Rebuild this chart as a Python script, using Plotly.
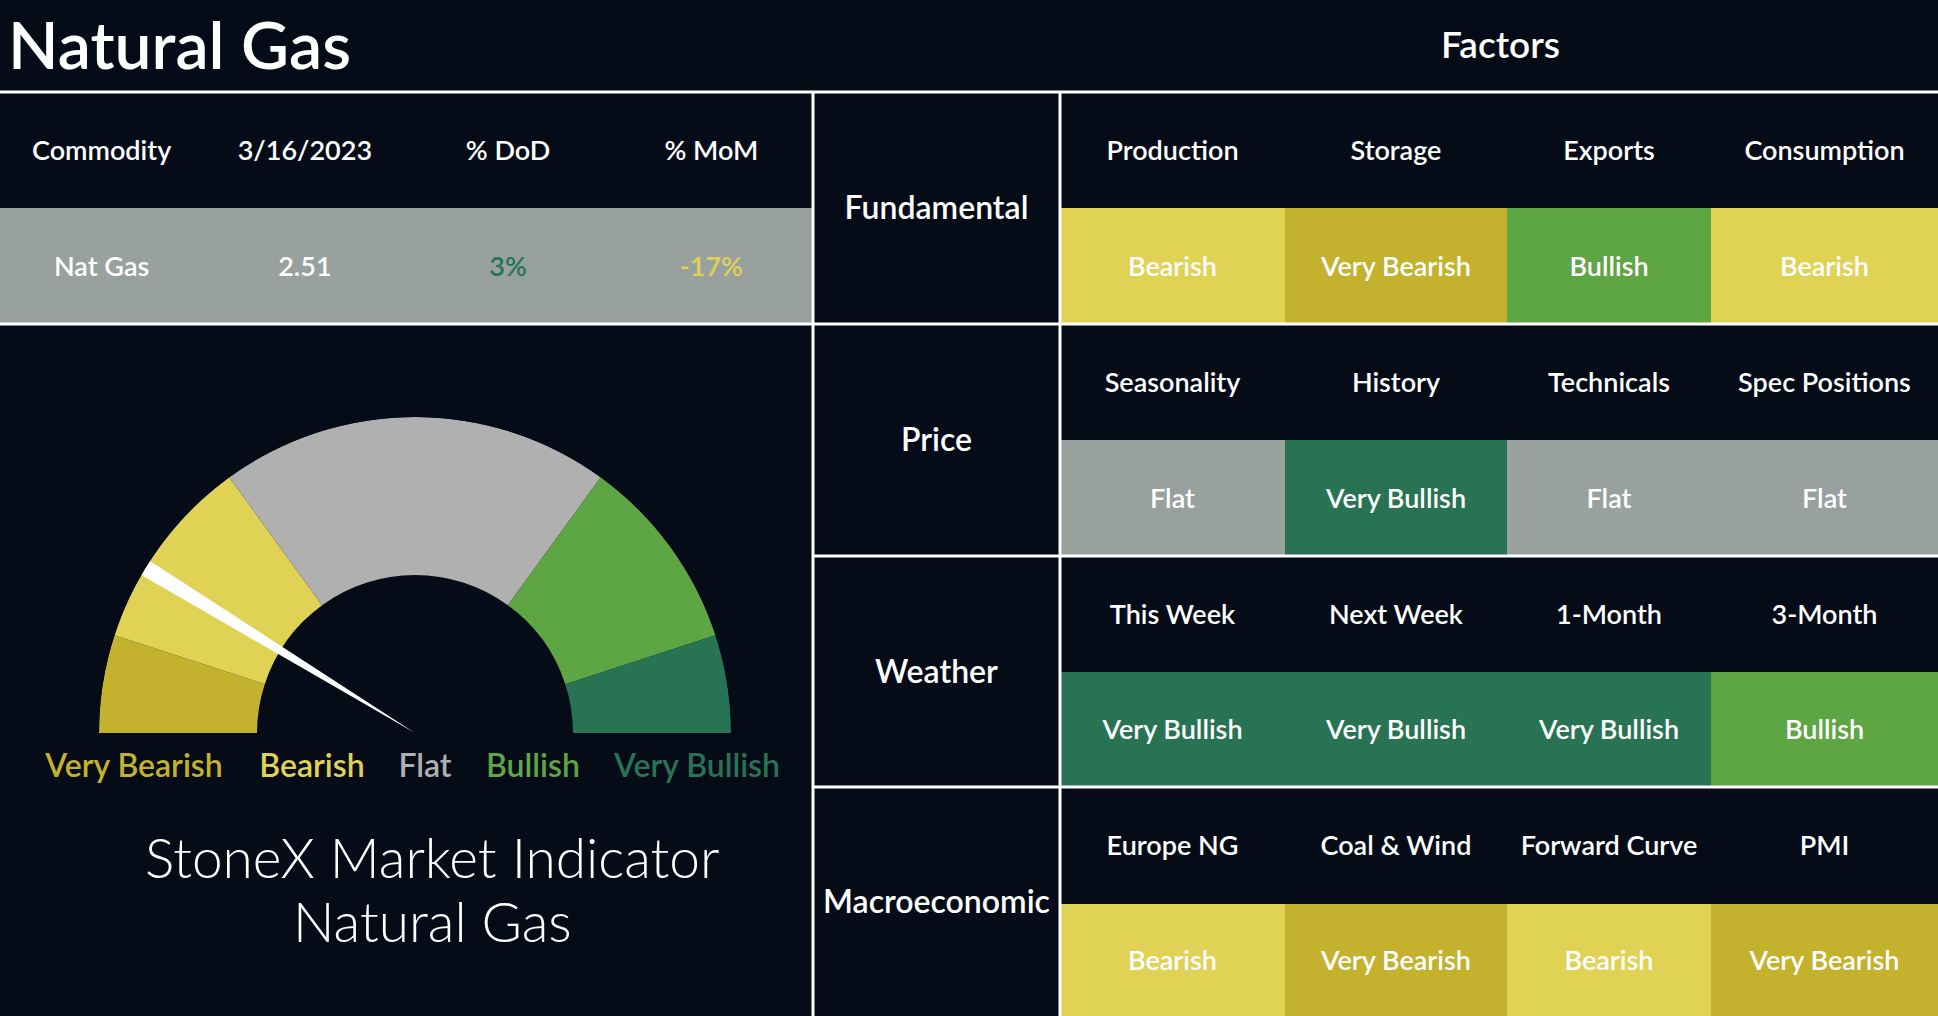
import numpy as np
import plotly.graph_objects as go

# ---- data ----
page_title = "Natural Gas"
table_header = ["Commodity", "3/16/2023", "% DoD", "% MoM"]
table_row = ["Nat Gas", "2.51", "3%", "-17%"]

sentiment_levels = ["Very Bearish", "Bearish", "Flat", "Bullish", "Very Bullish"]
gauge_spans = [1, 2, 4, 2, 1]
needle_value = 1.75

categories = ["Fundamental", "Price", "Weather", "Macroeconomic"]
factor_names = [
    ["Production", "Storage", "Exports", "Consumption"],
    ["Seasonality", "History", "Technicals", "Spec Positions"],
    ["This Week", "Next Week", "1-Month", "3-Month"],
    ["Europe NG", "Coal & Wind", "Forward Curve", "PMI"],
]
factor_signals = [
    ["Bearish", "Very Bearish", "Bullish", "Bearish"],
    ["Flat", "Very Bullish", "Flat", "Flat"],
    ["Very Bullish", "Very Bullish", "Very Bullish", "Bullish"],
    ["Bearish", "Very Bearish", "Bearish", "Very Bearish"],
]

# ---- style / layout ----
W, H = 1938, 1016
BG = "#050c18"
FONT = "Lato"
level_colors = ["#c4b12e", "#e0d255", "#99a19f", "#5ea544", "#287354"]
gauge_colors = ["#c4b12e", "#e0d255", "#b0b0b0", "#5ea544", "#287354"]
label_colors = ["#c4b12e", "#e0d255", "#b0b0b0", "#5ea544", "#287354"]

left_w = 813
cat_x = [813, 1060]
col_edges = [1060, 1285, 1507, 1711, 1938]
row_edges = [92, 208, 324, 440, 556, 672, 787, 904, 1016]
dy = 3  # text baseline nudge

fig = go.Figure()

# left gray data row
fig.add_trace(go.Heatmap(
    x=[0, left_w], y=[208, 324], z=[[2]],
    zmin=0, zmax=4, showscale=False, hoverinfo="skip",
    colorscale=[[0, level_colors[2]], [1, level_colors[2]]],
))

# factor grid
zz = []
for r in range(4):
    zz.append([None] * 4)
    zz.append([sentiment_levels.index(s) for s in factor_signals[r]])
cs = []
for i, c in enumerate(level_colors):
    cs.append([i / 5, c])
    cs.append([(i + 1) / 5, c])
fig.add_trace(go.Heatmap(
    x=col_edges, y=row_edges, z=zz, zmin=-0.5, zmax=4.5,
    colorscale=cs, showscale=False, hoverinfo="skip",
))

# grid lines
lx, ly = [], []
for seg in [((0, 92), (W, 92)), ((0, 324), (W, 324)),
            ((813, 556), (W, 556)), ((813, 787), (W, 787)),
            ((813, 92), (813, H)), ((1060, 92), (1060, H))]:
    lx += [seg[0][0], seg[1][0], None]
    ly += [seg[0][1], seg[1][1], None]
fig.add_trace(go.Scatter(x=lx, y=ly, mode="lines", line=dict(color="white", width=3),
                         hoverinfo="skip", showlegend=False))

# texts
def txt(xs, ys, texts, size, colors="white", weight="normal"):
    fig.add_trace(go.Scatter(
        x=xs, y=[v + dy for v in ys], text=texts, mode="text", hoverinfo="skip",
        showlegend=False, textposition="middle center",
        textfont=dict(family=FONT, size=size, color=colors, weight=weight),
    ))

col_c = [left_w / 8 * (2 * i + 1) for i in range(4)]
txt(col_c, [150] * 4, table_header, 27, weight=600)
txt(col_c, [266] * 4, table_row, 27,
    colors=["white", "white", level_colors[4], level_colors[1]], weight=600)

cat_c = (cat_x[0] + cat_x[1]) / 2
row_c = [(row_edges[2 * r] + row_edges[2 * r + 2]) / 2 for r in range(4)]
txt([cat_c] * 4, row_c, categories, 32, weight=600)

fc = [(col_edges[i] + col_edges[i + 1]) / 2 for i in range(4)]
for r in range(4):
    hy = (row_edges[2 * r] + row_edges[2 * r + 1]) / 2
    sy = (row_edges[2 * r + 1] + row_edges[2 * r + 2]) / 2
    txt(fc, [hy] * 4, factor_names[r], 27, weight=600)
    txt(fc, [sy] * 4, factor_signals[r], 27, weight=600)

# gauge labels
txt([134, 312, 425, 533, 697], [766] * 5, sentiment_levels, 32,
    colors=label_colors, weight=600)

# gauge
total = sum(gauge_spans)
widths = [s / total * 180 for s in gauge_spans]
centers = list(np.cumsum(widths) - np.array(widths) / 2)
fig.add_trace(go.Barpolar(
    theta=centers, width=widths, r=[0.5] * 5, base=[0.5] * 5,
    marker=dict(color=gauge_colors, line=dict(width=0)),
    hoverinfo="skip", showlegend=False,
))
fig.add_trace(go.Barpolar(
    theta=[needle_value / total * 180], width=[3], r=[1], base=[0],
    marker=dict(color="white", line=dict(width=0)),
    hoverinfo="skip", showlegend=False,
))

def note(x, y, text, size, anchor="center", weight=600):
    return dict(x=x / W, y=1 - y / H, xref="paper", yref="paper", text=text,
                showarrow=False, xanchor=anchor, yanchor="middle",
                font=dict(family=FONT, size=size, color="white", weight=weight))

fig.update_layout(
    width=W, height=H, margin=dict(l=0, r=0, t=0, b=0),
    paper_bgcolor=BG, plot_bgcolor=BG, showlegend=False,
    xaxis=dict(range=[0, W], visible=False, fixedrange=True),
    yaxis=dict(range=[H, 0], visible=False, fixedrange=True),
    polar=dict(
        domain=dict(x=[99 / W, 731 / W], y=[1 - 733 / H, 1 - 417 / H]),
        sector=[0, 180], bgcolor="rgba(0,0,0,0)",
        radialaxis=dict(visible=False, range=[0, 1]),
        angularaxis=dict(visible=False, rotation=180, direction="clockwise"),
    ),
    annotations=[
        note(6, 43, page_title, 66, anchor="left"),
        note(1500, 43, "Factors", 37),
        note(432, 857, "StoneX Market Indicator", 55, weight=300),
        note(432, 921, "Natural Gas", 55, weight=300),
    ],
)

fig.write_html("out.html", config={"displayModeBar": False},
               post_script="document.body.style.margin='0';"
               "document.body.style.background='#050c18';"
               "document.body.style.overflow='hidden';")
